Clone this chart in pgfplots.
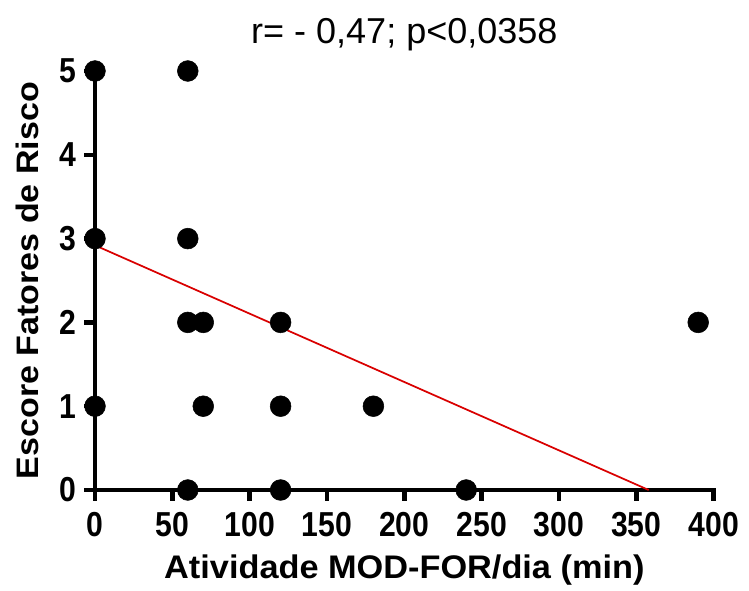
\documentclass[border=0pt]{standalone}
\usepackage{fontspec}
\setmainfont{Liberation Sans}
\usepackage{pgfplots}
\pgfplotsset{compat=1.18}

\begin{document}
\begin{tikzpicture}
% page size fixed to the reference proportions (axis corner at origin)
\useasboundingbox (-71.25pt,-75pt) rectangle (490.5pt,367.5pt);
\begin{axis}[
    at={(0,0)}, anchor=south west,
    scale only axis,
    width=464pt, height=314.25pt,
    xmin=0, xmax=400, ymin=0, ymax=5,
    axis lines=left,
    axis line style={-, line width=3.7pt, line cap=rect},
    xtick={0,50,...,400},
    ytick={0,1,...,5},
    tick align=outside,
    major tick length=8pt,
    tick style={line width=3.4pt, black},
    /pgf/number format/assume math mode=true,
    tick label style={font=\fontsize{26}{28}\selectfont\bfseries, inner sep=0pt, xscale=0.87},
    xticklabel style={anchor=base, yshift=-27pt},
    yticklabel style={anchor=east, xshift=-7pt},
    xlabel={Atividade MOD-FOR/dia (min)},
    ylabel={Escore Fatores de Risco},
    xlabel style={font=\fontsize{24.5}{26}\selectfont\bfseries, inner sep=0pt,
        at={(axis description cs:0.5,-0.212)}, anchor=base, xscale=1.05},
    ylabel style={font=\fontsize{23.3}{26}\selectfont\bfseries, inner sep=0pt,
        at={(axis description cs:-0.109,0.5)}, anchor=center, xscale=1.095},
    title={r= - 0,47; p<0,0358},
    title style={font=\fontsize{27}{30}\selectfont, inner sep=0pt,
        at={(axis description cs:0.5,1.0477)}, anchor=base},
    clip=false,
]
% regression line
\addplot[red!85!black, line width=1.3pt] coordinates {(0,2.92) (358,0)};
% observations
\addplot[only marks, mark=*, mark size=7.8pt, black] coordinates {
    (0,5) (60,5)
    (0,3) (60,3)
    (60,2) (70,2) (120,2) (390,2)
    (0,1) (70,1) (120,1) (180,1)
    (60,0) (120,0) (240,0)
};
\end{axis}
\end{tikzpicture}
\end{document}
